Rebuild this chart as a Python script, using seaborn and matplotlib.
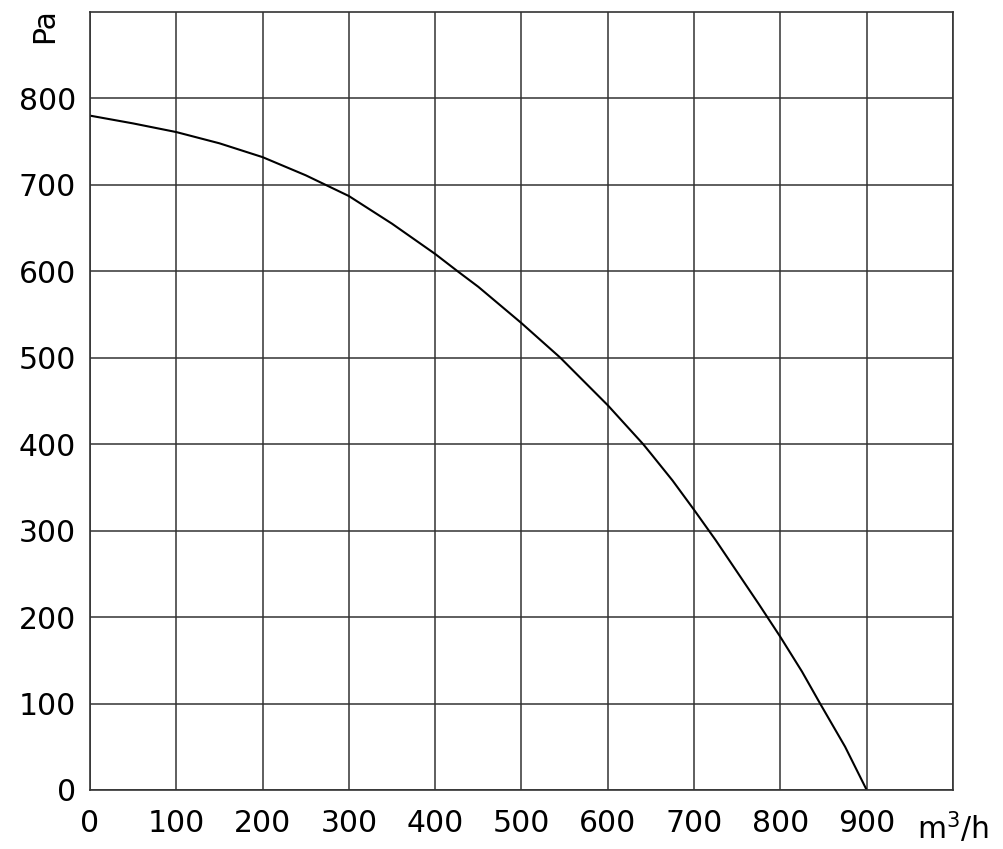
import pandas as pd
import matplotlib.pyplot as plt
import seaborn as sns

# fan curve
flow = [0, 50, 100, 150, 200, 250, 300, 350, 400, 426, 450, 500, 545, 550, 600, 641, 650, 675,
        700, 725, 750, 775, 800, 825, 846, 875, 900]
pressure = [780, 771, 761, 748, 732, 711, 687, 655, 620, 600, 582, 540, 500, 495, 445, 400, 389, 358,
            324, 289, 252, 215, 177, 137, 100, 50, 0]

x_ticks = [0, 100, 200, 300, 400, 500, 600, 700, 800, 900, 1000]
x_labels = ["0", "100", "200", "300", "400", "500", "600", "700", "800", "900", r"m$^{3}$/h"]
y_ticks = [0, 100, 200, 300, 400, 500, 600, 700, 800]
y_labels = ["0", "100", "200", "300", "400", "500", "600", "700", "800"]


def plot_curve():
    sns.set_style("white")
    plt.rcParams['font.family'] = ['DejaVu Sans']
    plt.rcParams['text.color'] = 'black'
    df = pd.DataFrame({"flow": flow, "pressure": pressure})

    fig = plt.figure(figsize=(10.04, 8.49), dpi=100)
    ax = fig.add_axes([0.0896, 0.0695, 0.8596, 0.9165])
    sns.lineplot(x="flow", y="pressure", data=df, ax=ax, color="black", linewidth=1.5, sort=False)

    ax.set_xlim(0, 1000)
    ax.set_ylim(0, 900)
    ax.set_xticks(x_ticks)
    ax.set_xticklabels(x_labels)
    ax.set_yticks(y_ticks)
    ax.set_yticklabels(y_labels)
    ax.tick_params(length=0, labelsize=21.5, colors="black")
    ax.tick_params(axis="x", pad=14)
    ax.tick_params(axis="y", pad=10)
    ax.grid(True, color="#333333", linewidth=1.1)
    for s in ax.spines.values():
        s.set_color("#333333")
        s.set_linewidth(1.2)
    ax.set_xlabel("")
    ax.set_ylabel("")
    ax.text(-0.052, 0.983, "Pa", transform=ax.transAxes, rotation=90,
            fontsize=21.5, ha="center", va="center", color="black")

    fig.savefig("out.png", dpi=100)


if __name__ == "__main__":
    plot_curve()
